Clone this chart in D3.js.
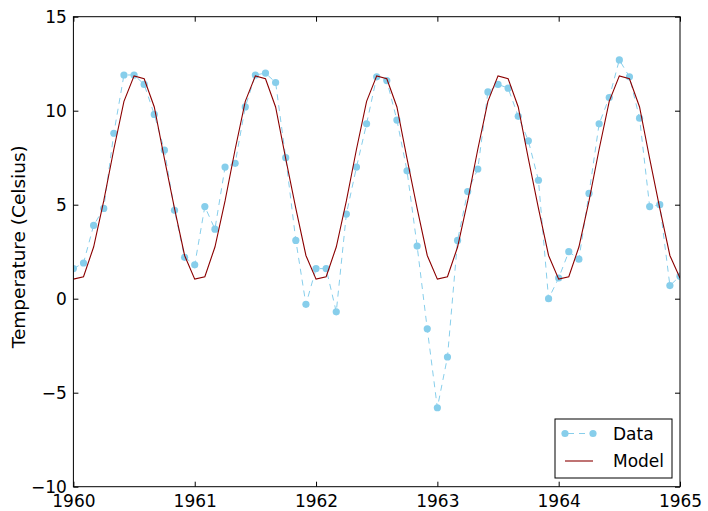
<!DOCTYPE html>
<html>
<head>
<meta charset="utf-8">
<script src="https://cdn.jsdelivr.net/npm/d3@7"></script>
<style>
  html, body { margin: 0; padding: 0; background: #fff; }
  svg text { font-family: "DejaVu Sans", sans-serif; }
</style>
</head>
<body>
<svg id="chart" width="708" height="511"></svg>
<script>
// Monthly observations, 1960-01 .. 1965-01
const dataTemps = [
  1.6, 1.9, 3.9, 4.8, 8.8, 11.9, 11.9, 11.4, 9.8, 7.9, 4.7, 2.2,
  1.8, 4.9, 3.7, 7.0, 7.2, 10.2, 11.9, 12.0, 11.5, 7.5, 3.1, -0.3,
  1.6, 1.6, -0.7, 4.5, 7.0, 9.3, 11.8, 11.6, 9.5, 6.8, 2.8, -1.6,
  -5.8, -3.1, 3.1, 5.7, 6.9, 11.0, 11.4, 11.2, 9.7, 8.4, 6.3, 0.0,
  1.1, 2.5, 2.1, 5.6, 9.3, 10.7, 12.7, 11.8, 9.6, 4.9, 5.0, 0.7,
  1.2
];
// Model values at the same months
const modelTemps = [
  1.04, 1.17, 2.75, 5.2, 7.95, 10.5, 11.85, 11.7, 10.2, 7.45, 4.8, 2.3,
  1.04, 1.17, 2.75, 5.2, 7.95, 10.5, 11.85, 11.7, 10.2, 7.45, 4.8, 2.3,
  1.04, 1.17, 2.75, 5.2, 7.95, 10.5, 11.85, 11.7, 10.2, 7.45, 4.8, 2.3,
  1.04, 1.17, 2.75, 5.2, 7.95, 10.5, 11.85, 11.7, 10.2, 7.45, 4.8, 2.3,
  1.04, 1.17, 2.75, 5.2, 7.95, 10.5, 11.85, 11.7, 10.2, 7.45, 4.8, 2.3,
  1.1
];
const startYear = 1960;
const xTicks = [1960, 1961, 1962, 1963, 1964, 1965];
const yTicks = [-10, -5, 0, 5, 10, 15];
const seriesNames = ["Data", "Model"];

const months = dataTemps.map((_, i) => startYear + i / 12);

const L = 73.4, R = 680, T = 16.7, B = 486.7;
const svg = d3.select("#chart");
const x = d3.scaleLinear().domain([1960, 1965]).range([L, R]);
const y = d3.scaleLinear().domain([-10, 15]).range([B, T]);

svg.append("defs").append("clipPath").attr("id", "clip")
  .append("rect").attr("x", L).attr("y", T).attr("width", R - L).attr("height", B - T);

const plot = svg.append("g").attr("clip-path", "url(#clip)");

const dataPts = months.map((m, i) => [m, dataTemps[i]]);
const modelPts = months.map((m, i) => [m, modelTemps[i]]);
const line = d3.line().x(d => x(d[0])).y(d => y(d[1]));

const blue = "#87ceeb", red = "#8b0000";

plot.append("path").datum(dataPts).attr("d", line)
  .attr("fill", "none").attr("stroke", blue).attr("stroke-width", 1)
  .attr("stroke-dasharray", "6,5");
plot.selectAll("circle.pt").data(dataPts).join("circle").attr("class", "pt")
  .attr("cx", d => x(d[0])).attr("cy", d => y(d[1])).attr("r", 3.6)
  .attr("fill", blue);
plot.append("path").datum(modelPts).attr("d", line)
  .attr("fill", "none").attr("stroke", red).attr("stroke-width", 1.1);

// axes with inward ticks
const tickLen = 5;
const ax = (g) => g.call(s => s.select(".domain").remove())
  .call(s => s.selectAll("line").attr("stroke", "#000"))
  .call(s => s.selectAll("text").attr("fill", "#000").attr("font-family", "DejaVu Sans").style("font-size", "17px"));

svg.append("g").attr("transform", `translate(0,${B})`)
  .call(d3.axisBottom(x).tickValues(xTicks).tickFormat(d3.format("d")).tickSizeInner(-tickLen).tickSizeOuter(0).tickPadding(8))
  .call(ax);
svg.append("g").attr("transform", `translate(0,${T})`)
  .call(d3.axisTop(x).tickValues(xTicks).tickFormat("").tickSizeInner(-tickLen).tickSizeOuter(0))
  .call(ax);
svg.append("g").attr("transform", `translate(${L},0)`)
  .call(d3.axisLeft(y).tickValues(yTicks).tickSizeInner(-tickLen).tickSizeOuter(0).tickPadding(6.5))
  .call(ax);
svg.append("g").attr("transform", `translate(${R},0)`)
  .call(d3.axisRight(y).tickValues(yTicks).tickFormat("").tickSizeInner(-tickLen).tickSizeOuter(0))
  .call(ax);

svg.append("rect").attr("x", L).attr("y", T).attr("width", R - L).attr("height", B - T)
  .attr("fill", "none").attr("stroke", "#000").attr("stroke-width", 1);

svg.append("text").attr("transform", `translate(25,${(T + B) / 2 - 5}) rotate(-90)`)
  .attr("text-anchor", "middle").style("font-size", "18.5px").attr("fill", "#000")
  .text("Temperature (Celsius)");

// legend
const lg = svg.append("g");
lg.append("rect").attr("x", 555).attr("y", 419).attr("width", 117).attr("height", 59)
  .attr("fill", "#fff").attr("stroke", "#000").attr("stroke-width", 1);
lg.append("line").attr("x1", 565).attr("x2", 593).attr("y1", 433.5).attr("y2", 433.5)
  .attr("stroke", blue).attr("stroke-dasharray", "6,5").attr("stroke-dashoffset", -3);
[565, 593].forEach(cx => lg.append("circle").attr("cx", cx).attr("cy", 433.5).attr("r", 3.6).attr("fill", blue));
lg.append("line").attr("x1", 565).attr("x2", 593).attr("y1", 461).attr("y2", 461)
  .attr("stroke", red).attr("stroke-width", 1.1);
lg.selectAll("text.lt").data(seriesNames).join("text").attr("class", "lt")
  .attr("x", 613).attr("y", (d, i) => 439.5 + i * 27.5)
  .style("font-size", "17px").attr("fill", "#000").text(d => d);
</script>
</body>
</html>
